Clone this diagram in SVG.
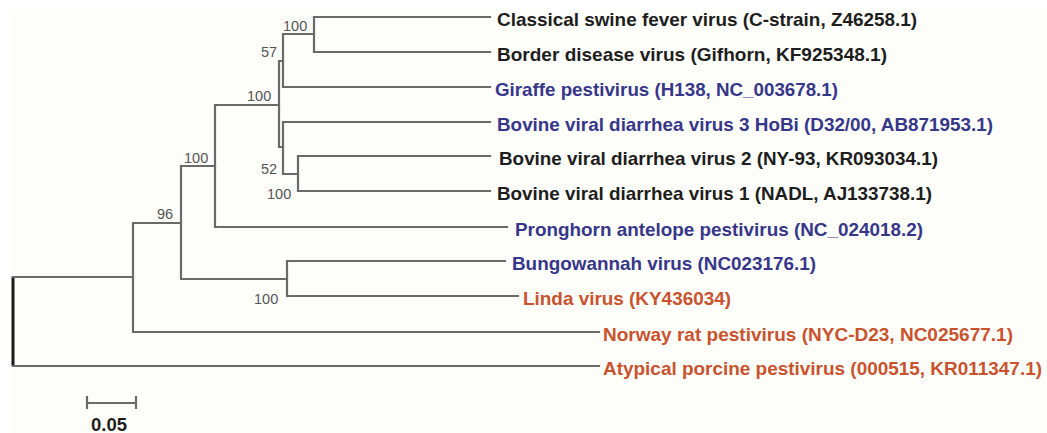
<svg xmlns="http://www.w3.org/2000/svg" width="1047" height="433" viewBox="0 0 1047 433">
<style>
.br{stroke:#6a6a6a;stroke-width:2.2;fill:none;stroke-linecap:square}
.root{stroke:#1a1a1a;stroke-width:3;fill:none}
.lab{font-family:"Liberation Sans",Arial,sans-serif;font-weight:bold;font-size:18.5px}
.k{fill:#1e1e1e}
.b{fill:#37378a}
.r{fill:#c9532f}
.bs{font-family:"Liberation Sans",Arial,sans-serif;font-size:14.5px;fill:#555}
</style>
<rect x="0" y="0" width="1047" height="433" fill="#ffffff"/>
<rect x="12" y="10" width="1035" height="423" fill="#fdfdf9"/>
<g id="connectors">
<path class="root" d="M13,277V366"/>
<path class="br" d="M13,277H133M13,366H599"/>
<path class="br" d="M133,223V332M133,223H181M133,332H599"/>
<path class="br" d="M181,166V279M181,166H215M181,279H287"/>
<path class="br" d="M287,261V296M287,261H505M287,296H518"/>
<path class="br" d="M215,105V227M215,105H279M215,227H507"/>
<path class="br" d="M279,61V147M279,61H283M279,147H283"/>
<path class="br" d="M283,34V87M283,34H314M283,87H490"/>
<path class="br" d="M314,17V52M314,17H490M314,52H490"/>
<path class="br" d="M283,122V174M283,122H490M283,174H298"/>
<path class="br" d="M298,156V191M298,156H490M298,191H490"/>
</g>
<g id="n-csfv-bdv"><text class="bs" x="283" y="31">100</text></g>
<g id="n-57"><text class="bs" x="261" y="57">57</text></g>
<g id="n-ruminant"><text class="bs" x="247" y="101">100</text></g>
<g id="n-52"><text class="bs" x="261" y="174">52</text></g>
<g id="n-bvdv12"><text class="bs" x="267" y="199">100</text></g>
<g id="n-pronghorn"><text class="bs" x="184" y="163">100</text></g>
<g id="n-96"><text class="bs" x="157" y="219">96</text></g>
<g id="n-bungo-linda"><text class="bs" x="254" y="304">100</text></g>
<g id="leaf-csfv"><text class="lab k" x="497" y="26" textLength="420" lengthAdjust="spacingAndGlyphs">Classical swine fever virus (C-strain, Z46258.1)</text></g>
<g id="leaf-bdv"><text class="lab k" x="497" y="61" textLength="390" lengthAdjust="spacingAndGlyphs">Border disease virus (Gifhorn, KF925348.1)</text></g>
<g id="leaf-giraffe"><text class="lab b" x="495" y="96" textLength="343" lengthAdjust="spacingAndGlyphs">Giraffe pestivirus (H138, NC_003678.1)</text></g>
<g id="leaf-bvdv3"><text class="lab b" x="497" y="131" textLength="496" lengthAdjust="spacingAndGlyphs">Bovine viral diarrhea virus 3 HoBi (D32/00, AB871953.1)</text></g>
<g id="leaf-bvdv2"><text class="lab k" x="499" y="165" textLength="439" lengthAdjust="spacingAndGlyphs">Bovine viral diarrhea virus 2 (NY-93, KR093034.1)</text></g>
<g id="leaf-bvdv1"><text class="lab k" x="497" y="200" textLength="435" lengthAdjust="spacingAndGlyphs">Bovine viral diarrhea virus 1 (NADL, AJ133738.1)</text></g>
<g id="leaf-pronghorn"><text class="lab b" x="515" y="236" textLength="408" lengthAdjust="spacingAndGlyphs">Pronghorn antelope pestivirus (NC_024018.2)</text></g>
<g id="leaf-bungowannah"><text class="lab b" x="512" y="270" textLength="304" lengthAdjust="spacingAndGlyphs">Bungowannah virus (NC023176.1)</text></g>
<g id="leaf-linda"><text class="lab r" x="523" y="305" textLength="208" lengthAdjust="spacingAndGlyphs">Linda virus (KY436034)</text></g>
<g id="leaf-norway"><text class="lab r" x="603" y="341" textLength="410" lengthAdjust="spacingAndGlyphs">Norway rat pestivirus (NYC-D23, NC025677.1)</text></g>
<g id="leaf-atypical"><text class="lab r" x="603" y="375" textLength="439" lengthAdjust="spacingAndGlyphs">Atypical porcine pestivirus (000515, KR011347.1)</text></g>
<g id="scale-bar">
<path class="br" d="M87,403H136M87,397V408M136,397V408"/>
<text class="lab k" x="91" y="431">0.05</text>
</g>
</svg>
